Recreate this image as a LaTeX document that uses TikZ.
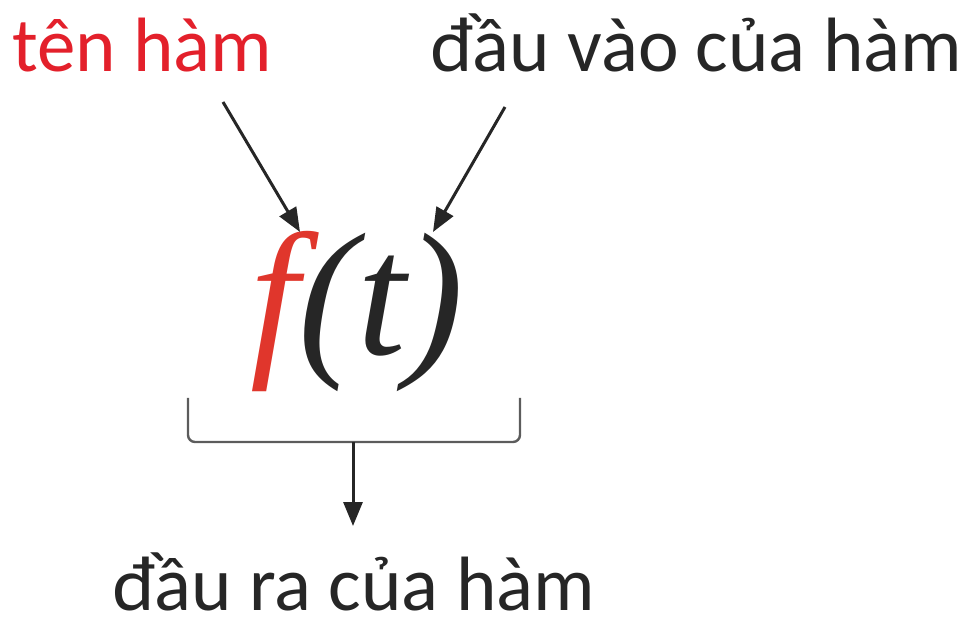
\documentclass[tikz,border=0pt]{standalone}
\usepackage{fontspec}
\setmainfont{Liberation Serif}
\newfontfamily\carlitofont{Carlito}
\usetikzlibrary{arrows.meta}
\definecolor{lblred}{HTML}{E3202B}
\definecolor{fred}{HTML}{E0362C}
\definecolor{ink}{HTML}{262626}
\tikzset{
  lbl/.style={inner sep=0pt, anchor=base west, text depth=0pt, font=\carlitofont\fontsize{77}{77}\selectfont, text=ink},
  arr/.style={line width=3pt, draw=ink, -{Triangle[length=24pt,width=19pt]}},
  brk/.style={line width=2.4pt, draw=ink!75, rounded corners=7pt}
}
\begin{document}
\begin{tikzpicture}[x=1pt,y=-1pt]
\useasboundingbox (0,0) rectangle (972,617);
\node[inner sep=0pt, anchor=base west, text=ink, font=\itshape\fontsize{175}{175}\selectfont] (ft) at (250,355) {\textcolor{fred}{f}(t)};
\node[lbl, text=lblred] (name) at (12,72) {tên hàm};
\node[lbl] (input) at (430,72) {đầu vào của hàm};
\node[lbl] (output) at (112,610) {đầu ra của hàm};
\coordinate (a1s) at (223,102);
\coordinate (a1e) at (300,232);
\coordinate (a2s) at (505,107);
\coordinate (a2e) at (433,232);
\coordinate (bl) at (188,398);
\coordinate (br) at (520,398);
\coordinate (bm) at (353,442);
\coordinate (be) at (353,526);
\draw[arr] (a1s) -- (a1e);
\draw[arr] (a2s) -- (a2e);
\draw[brk] (bl) |- (bm) -| (br);
\draw[arr] (bm) -- (be);
\end{tikzpicture}
\end{document}
